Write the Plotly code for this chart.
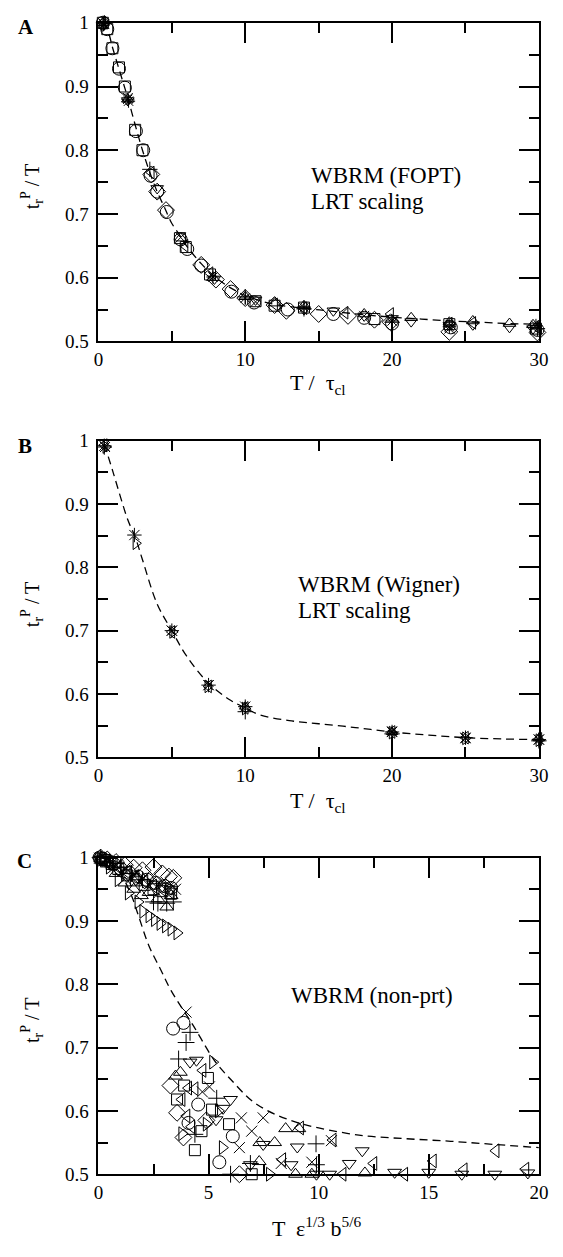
import plotly.graph_objects as go

FONT = "Times New Roman, Liberation Serif, Times, serif"
W, H = 563, 1257

# ---------------- Panel A : WBRM (FOPT), LRT scaling ----------------
a_curve_x = [0.3, 0.6, 1.0, 1.5, 2.0, 2.5, 3.0, 3.5, 4.0, 4.5, 5.0, 5.5, 6.0, 7.0, 8.0, 9.0,
             10.0, 11.0, 12.0, 14.0, 16.0, 18.0, 20.0, 22.0, 24.0, 26.0, 28.0, 30.0]
a_curve_y = [1.0, 0.99, 0.958, 0.92, 0.882, 0.84, 0.80, 0.765, 0.735, 0.71, 0.685, 0.668, 0.65,
             0.622, 0.60, 0.584, 0.572, 0.564, 0.558, 0.552, 0.547, 0.542, 0.538, 0.535, 0.532,
             0.530, 0.528, 0.527]

a_circle_x = [0.3, 0.6, 0.95, 1.4, 1.8, 2.55, 3.05, 3.55, 4.0, 4.65, 5.6, 6.05, 7.0, 9.05, 10.6,
              12.9, 16.0, 18.1, 20.0, 24.0, 29.9]
a_circle_y = [1.0, 0.99, 0.96, 0.928, 0.898, 0.83, 0.80, 0.76, 0.735, 0.703, 0.66, 0.645, 0.619,
              0.578, 0.561, 0.550, 0.543, 0.537, 0.528, 0.522, 0.518]
a_square_x = [0.3, 0.6, 0.95, 1.4, 1.8, 2.5, 3.0, 5.55, 5.95, 7.6, 10.7, 12.0, 14.0, 18.8, 23.9, 29.8]
a_square_y = [1.0, 0.99, 0.96, 0.93, 0.9, 0.832, 0.80, 0.662, 0.648, 0.605, 0.563, 0.556, 0.553,
              0.535, 0.527, 0.52]
a_diamond_x = [3.6, 4.0, 4.6, 7.0, 8.0, 9.0, 10.0, 12.0, 12.8, 15.0, 17.0, 18.8, 19.9, 23.9, 29.9]
a_diamond_y = [0.762, 0.735, 0.706, 0.62, 0.597, 0.582, 0.568, 0.557, 0.548, 0.543, 0.54, 0.534,
               0.53, 0.515, 0.514]
a_tup_x = [0.3, 2.0, 5.6, 7.8, 10.0, 12.0, 14.0, 18.1, 21.3, 23.9, 25.5, 28.0, 29.6]
a_tup_y = [1.0, 0.88, 0.662, 0.60, 0.57, 0.56, 0.556, 0.543, 0.537, 0.53, 0.532, 0.528, 0.526]
a_tdown_x = [0.3, 2.0, 4.0, 7.9, 10.7, 14.0, 16.0, 18.1, 20.0, 21.3, 23.9, 25.5, 28.0, 29.6]
a_tdown_y = [0.995, 0.878, 0.74, 0.598, 0.565, 0.55, 0.548, 0.54, 0.536, 0.531, 0.525, 0.526,
             0.522, 0.52]
a_tleft_x = [0.3, 3.6, 5.9, 7.6, 12.0, 14.0, 16.8, 19.9, 23.9, 25.5, 29.8]
a_tleft_y = [1.0, 0.765, 0.65, 0.607, 0.558, 0.552, 0.545, 0.543, 0.528, 0.529, 0.523]
a_star_x = [0.3, 0.35, 2.0, 2.05, 7.8, 10.0, 14.0, 20.0, 23.9, 29.8]
a_star_y = [1.0, 0.998, 0.88, 0.877, 0.601, 0.568, 0.553, 0.532, 0.523, 0.525]
a_x_x = [0.4, 2.0, 5.6, 10.7, 18.1, 23.9]
a_x_y = [0.998, 0.882, 0.663, 0.562, 0.54, 0.52]
a_plus_x = [0.4, 3.5, 10.0, 14.0, 20.0, 29.9]
a_plus_y = [1.0, 0.77, 0.57, 0.551, 0.53, 0.52]

# ---------------- Panel B : WBRM (Wigner), LRT scaling ----------------
b_curve_x = [0.4, 1.0, 2.0, 2.5, 3.0, 4.0, 5.0, 6.0, 7.5, 9.0, 10.0, 11.0, 13.0, 15.0, 17.5,
             20.0, 22.5, 25.0, 27.5, 30.0]
b_curve_y = [0.995, 0.95, 0.875, 0.848, 0.812, 0.742, 0.70, 0.66, 0.617, 0.59, 0.578, 0.567,
             0.558, 0.553, 0.547, 0.540, 0.535, 0.531, 0.529, 0.528]
b_star_x = [0.4, 2.45, 5.0, 7.5, 10.0, 20.0, 25.0, 30.0]
b_star_y = [0.992, 0.851, 0.70, 0.614, 0.58, 0.54, 0.531, 0.528]
b_tright_x = [0.5, 2.55, 5.05, 7.45, 10.0, 20.0, 25.0, 30.0]
b_tright_y = [0.99, 0.838, 0.698, 0.612, 0.577, 0.539, 0.53, 0.527]
b_tleft_x = [0.4, 5.0, 7.5, 10.0, 20.0, 25.0, 30.0]
b_tleft_y = [0.993, 0.698, 0.612, 0.578, 0.54, 0.531, 0.529]
b_plus_x = [0.4, 10.0, 20.0, 30.0]
b_plus_y = [0.99, 0.572, 0.537, 0.526]
b_x_x = [0.45, 5.0, 7.5, 20.0, 25.0, 30.0]
b_x_y = [0.99, 0.70, 0.614, 0.541, 0.53, 0.528]
b_tup_x = [10.0, 20.0, 30.0]
b_tup_y = [0.58, 0.54, 0.53]

# ---------------- Panel C : WBRM (non-prt) ----------------
c_curve_x = [0.0, 0.5, 1.0, 1.5, 1.8, 2.3, 2.8, 3.3, 4.3, 5.3, 6.0, 7.0, 8.0, 9.0, 10.0, 12.0,
             14.0, 16.0, 18.0, 20.0]
c_curve_y = [1.0, 0.995, 0.975, 0.94, 0.91, 0.86, 0.825, 0.79, 0.735, 0.678, 0.65, 0.615, 0.595,
             0.582, 0.573, 0.561, 0.556, 0.552, 0.547, 0.542]

c_circle_x = [0.05, 0.2, 0.4, 0.7, 1.0, 1.4, 1.8, 2.2, 2.6, 3.0, 3.3,
              3.39, 3.86, 4.53, 4.09, 6.1, 5.49]
c_circle_y = [1.0, 0.998, 0.995, 0.99, 0.983, 0.976, 0.97, 0.965, 0.96, 0.955, 0.952,
              0.73, 0.739, 0.61, 0.581, 0.56, 0.519]
c_square_x = [0.1, 0.3, 0.6, 0.9, 1.3, 1.7, 2.1, 2.5, 2.9, 3.3,
              4.97, 3.89, 3.57, 5.16, 4.68, 4.38, 5.93, 6.96]
c_square_y = [0.999, 0.996, 0.99, 0.982, 0.972, 0.964, 0.957, 0.95, 0.947, 0.943,
              0.652, 0.64, 0.618, 0.602, 0.568, 0.538, 0.579, 0.50]
c_diamond_x = [0.1, 0.4, 0.8, 1.2, 1.6, 2.0, 2.5, 2.9, 3.2, 3.4,
               3.27, 3.57, 3.86, 4.9, 6.4]
c_diamond_y = [1.0, 0.997, 0.993, 0.988, 0.984, 0.98, 0.985, 0.975, 0.97, 0.968,
               0.64, 0.597, 0.558, 0.585, 0.50]
c_tup_x = [0.1, 0.4, 0.8, 1.2, 1.6, 1.95, 2.3, 2.7, 3.1, 3.3,
           3.72, 3.5, 7.33, 8.0, 8.5, 9.1, 7.3, 8.95, 9.69, 12.1]
c_tup_y = [0.998, 0.99, 0.975, 0.96, 0.95, 0.94, 0.945, 0.935, 0.922, 0.94,
           0.661, 0.655, 0.55, 0.55, 0.572, 0.572, 0.52, 0.50, 0.50, 0.502]
c_tdown_x = [0.1, 0.5, 0.9, 1.3, 1.7, 2.1, 2.5, 2.9, 3.3,
             4.16, 4.45, 5.66, 6.0, 5.34, 7.48, 9.03, 6.9, 8.75, 9.9, 10.5, 11.98, 11.39,
             13.45, 15.0, 16.5, 18.0, 19.5]
c_tdown_y = [0.997, 0.99, 0.98, 0.97, 0.965, 0.96, 0.958, 0.955, 0.95,
             0.677, 0.68, 0.604, 0.618, 0.586, 0.547, 0.543, 0.515, 0.515, 0.50, 0.50, 0.537,
             0.517, 0.503, 0.503, 0.50, 0.50, 0.502]
c_tleft_x = [0.15, 0.5, 0.9, 1.3, 1.7, 2.1, 2.5, 2.9, 3.3,
             4.74, 4.09, 4.38, 3.79, 4.01, 4.23, 8.36, 9.17, 10.65, 11.1, 12.5, 13.9, 15.2,
             16.6, 18.05, 19.4]
c_tleft_y = [0.998, 0.992, 0.985, 0.977, 0.97, 0.962, 0.955, 0.95, 0.945,
             0.664, 0.636, 0.635, 0.618, 0.592, 0.575, 0.523, 0.573, 0.554, 0.50, 0.517, 0.50,
             0.521, 0.507, 0.537, 0.508]
c_tright_x = [0.1, 0.5, 0.9, 1.36, 1.8, 2.02, 2.3, 2.55, 2.8, 3.05, 3.3, 3.57,
              5.19, 5.45, 3.79, 4.9, 5.63, 7.77]
c_tright_y = [0.997, 0.985, 0.965, 0.944, 0.93, 0.915, 0.908, 0.902, 0.896, 0.892, 0.887, 0.881,
              0.677, 0.60, 0.564, 0.579, 0.542, 0.50]
c_plus_x = [0.1, 0.5, 1.0, 1.5, 2.0, 2.5, 2.7, 3.1, 3.4,
            4.16, 3.98, 3.64, 4.38, 5.37, 6.0, 6.9, 9.88, 9.9]
c_plus_y = [1.0, 0.993, 0.985, 0.975, 0.965, 0.93, 0.928, 0.928, 0.93,
            0.724, 0.708, 0.682, 0.563, 0.62, 0.50, 0.517, 0.548, 0.515]
c_x_x = [0.05, 0.4, 0.8, 1.2, 1.6, 2.0, 2.4, 2.8, 3.2, 3.5,
         3.98, 5.04, 4.72, 6.49, 6.4, 6.96, 7.48, 8.3, 9.69, 10.58]
c_x_y = [0.999, 0.994, 0.988, 0.98, 0.972, 0.966, 0.962, 0.958, 0.953, 0.95,
         0.756, 0.638, 0.63, 0.589, 0.542, 0.568, 0.589, 0.517, 0.519, 0.553]

# tick values / labels
ab_xticks = [0, 10, 20, 30]
ab_xtext = ["0", "10", "20", "30"]
ab_xminor = [5, 15, 25]
c_xticks = [0, 5, 10, 15, 20]
c_xtext = ["0", "5", "10", "15", "20"]
c_xminor = [2.5, 7.5, 12.5, 17.5]
yticks = [0.5, 0.6, 0.7, 0.8, 0.9, 1.0]
ytext = ["0.5", "0.6", "0.7", "0.8", "0.9", "1"]
yminor = [0.55, 0.65, 0.75, 0.85, 0.95]

fig = go.Figure()


def add_pts(xs, ys, sym, xa, ya, size=12):
    fig.add_trace(go.Scatter(
        x=xs, y=ys, mode="markers", xaxis=xa, yaxis=ya, cliponaxis=False,
        marker=dict(symbol=sym, size=size, color="black", line=dict(color="black", width=1)),
        showlegend=False, hoverinfo="skip"))


def add_curve(xs, ys, xa, ya):
    fig.add_trace(go.Scatter(
        x=xs, y=ys, mode="lines", xaxis=xa, yaxis=ya, line_shape="spline",
        line=dict(color="black", width=1.3, dash="8px,5px"),
        showlegend=False, hoverinfo="skip"))


# panel A
add_curve(a_curve_x, a_curve_y, "x", "y")
add_pts(a_circle_x, a_circle_y, "circle-open", "x", "y", 13)
add_pts(a_square_x, a_square_y, "square-open", "x", "y", 11)
add_pts(a_diamond_x, a_diamond_y, "diamond-open", "x", "y", 13)
add_pts(a_tup_x, a_tup_y, "triangle-up-open", "x", "y", 11)
add_pts(a_tdown_x, a_tdown_y, "triangle-down-open", "x", "y", 11)
add_pts(a_tleft_x, a_tleft_y, "triangle-left-open", "x", "y", 11)
add_pts(a_star_x, a_star_y, "asterisk-open", "x", "y", 11)
add_pts(a_x_x, a_x_y, "x-thin-open", "x", "y", 10)
add_pts(a_plus_x, a_plus_y, "cross-thin-open", "x", "y", 11)

# panel B
add_curve(b_curve_x, b_curve_y, "x2", "y2")
add_pts(b_star_x, b_star_y, "asterisk-open", "x2", "y2", 12)
add_pts(b_tright_x, b_tright_y, "triangle-right-open", "x2", "y2", 11)
add_pts(b_tleft_x, b_tleft_y, "triangle-left-open", "x2", "y2", 11)
add_pts(b_plus_x, b_plus_y, "cross-thin-open", "x2", "y2", 11)
add_pts(b_x_x, b_x_y, "x-thin-open", "x2", "y2", 10)
add_pts(b_tup_x, b_tup_y, "triangle-up-open", "x2", "y2", 10)

# panel C
add_curve(c_curve_x, c_curve_y, "x3", "y3")
add_pts(c_circle_x, c_circle_y, "circle-open", "x3", "y3", 13)
add_pts(c_square_x, c_square_y, "square-open", "x3", "y3", 11)
add_pts(c_diamond_x, c_diamond_y, "diamond-open", "x3", "y3", 13)
add_pts(c_tup_x, c_tup_y, "triangle-up-open", "x3", "y3", 12)
add_pts(c_tdown_x, c_tdown_y, "triangle-down-open", "x3", "y3", 12)
add_pts(c_tleft_x, c_tleft_y, "triangle-left-open", "x3", "y3", 12)
add_pts(c_tright_x, c_tright_y, "triangle-right-open", "x3", "y3", 12)
add_pts(c_plus_x, c_plus_y, "cross-thin-open", "x3", "y3", 12)
add_pts(c_x_x, c_x_y, "x-thin-open", "x3", "y3", 11)

X_DOM = [96 / W, 548.5 / W]


def ydom(top_px, bot_px):
    return [1 - bot_px / H, 1 - top_px / H]


def ax(tickvals, ticktext, minorvals, rng, domain, anchor, **kw):
    d = dict(
        range=rng, domain=domain, anchor=anchor,
        tickmode="array", tickvals=tickvals, ticktext=ticktext,
        showline=True, linecolor="black", linewidth=2, mirror="allticks",
        ticks="inside", ticklen=20, tickwidth=1.5, tickcolor="black",
        minor=dict(tickmode="array", tickvals=minorvals, ticks="inside", ticklen=10,
                   tickwidth=1.5, tickcolor="black", showgrid=False),
        showgrid=False, zeroline=False,
        tickfont=dict(family=FONT, size=19, color="black"),
    )
    d.update(kw)
    return d


layout = dict(
    width=W, height=H, margin=dict(l=0, r=0, t=0, b=0),
    paper_bgcolor="white", plot_bgcolor="white",
    font=dict(family=FONT, color="black"),
    xaxis=ax(ab_xticks, ab_xtext, ab_xminor, [0, 30], X_DOM, "y", ticklabelstandoff=0),
    yaxis=ax(yticks, ytext, yminor, [0.5, 1.0], ydom(13, 337), "x", ticklabelstandoff=4),
    xaxis2=ax(ab_xticks, ab_xtext, ab_xminor, [0, 30], X_DOM, "y2", ticklabelstandoff=0),
    yaxis2=ax(yticks, ytext, yminor, [0.5, 1.0], ydom(438, 760), "x2", ticklabelstandoff=4),
    xaxis3=ax(c_xticks, c_xtext, c_xminor, [0, 20], X_DOM, "y3", ticklabelstandoff=0),
    yaxis3=ax(yticks, ytext, yminor, [0.5, 1.0], ydom(862, 1184), "x3", ticklabelstandoff=4),
)
fig.update_layout(**layout)


def ann(text, xpx, ypx, size, xanchor="left", angle=0, bold=False):
    if bold:
        text = "<b>" + text + "</b>"
    fig.add_annotation(text=text, x=xpx / W, y=1 - ypx / H, xref="paper", yref="paper",
                       xanchor=xanchor, yanchor="middle", showarrow=False, textangle=angle,
                       font=dict(family=FONT, size=size, color="black"))


# panel letters
ann("A", 11, 17, 21, bold=True)
ann("B", 11, 443, 21, bold=True)
ann("C", 10, 865, 21, bold=True)

# in-plot labels
ann("WBRM (FOPT)", 312, 168, 23)
ann("LRT scaling", 312, 195, 23)
ann("WBRM (Wigner)", 299, 584, 23)
ann("LRT scaling", 299, 611, 23)
ann("WBRM (non-prt)", 292, 1002, 23)

# y axis titles
ylab = "t<sub>r</sub><sup>P</sup> / T"
ann(ylab, 28, 180, 20, xanchor="center", angle=-90)
ann(ylab, 28, 605, 20, xanchor="center", angle=-90)
ann(ylab, 28, 1028, 20, xanchor="center", angle=-90)

# x axis titles
xlab_ab = "T /  τ<sub>cl</sub>"
ann(xlab_ab, 322, 380, 22, xanchor="center")
ann(xlab_ab, 322, 805, 22, xanchor="center")
ann("T  ε<sup>1/3</sup> b<sup>5/6</sup>", 320, 1238, 22, xanchor="center")

fig.write_html("out.html")
